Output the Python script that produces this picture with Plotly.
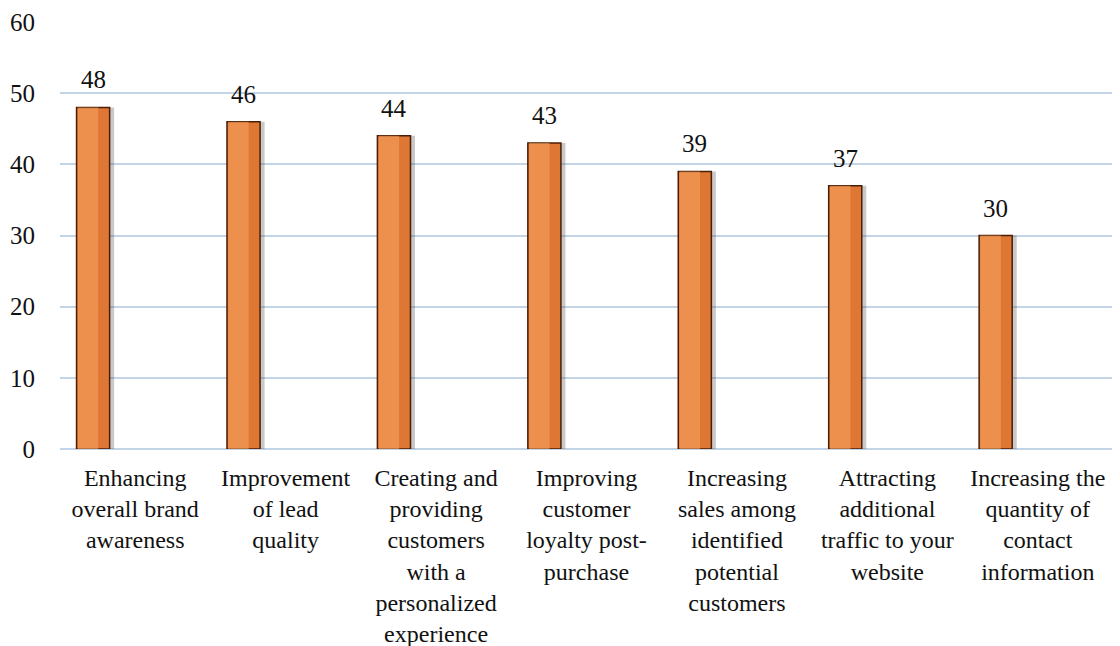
import plotly.graph_objects as go

categories = [
    "Enhancing<br>overall brand<br>awareness",
    "Improvement<br>of lead<br>quality",
    "Creating and<br>providing<br>customers<br>with a<br>personalized<br>experience",
    "Improving<br>customer<br>loyalty post-<br>purchase",
    "Increasing<br>sales among<br>identified<br>potential<br>customers",
    "Attracting<br>additional<br>traffic to your<br>website",
    "Increasing the<br>quantity of<br>contact<br>information",
]
values = [48, 46, 44, 43, 39, 37, 30]
y_ticks = [0, 10, 20, 30, 40, 50, 60]

FONT = "Liberation Serif"
BAR_OFFSET = -0.39
BAR_WIDTH = 0.22

fig = go.Figure()

# soft shadow
fig.add_trace(go.Bar(
    x=categories, y=values, offset=BAR_OFFSET + 0.03, width=BAR_WIDTH,
    marker=dict(color="rgba(60,60,60,0.28)", line=dict(width=0)),
    hoverinfo="skip", showlegend=False,
))
# main bar
fig.add_trace(go.Bar(
    x=categories, y=values, offset=BAR_OFFSET, width=BAR_WIDTH,
    marker=dict(color="#DE7634", line=dict(color="#4A1E06", width=1.5)),
    showlegend=False,
))
# lighter left bevel strip
fig.add_trace(go.Bar(
    x=categories, y=values, offset=BAR_OFFSET + 0.008, width=BAR_WIDTH * 0.62,
    marker=dict(color="rgba(250,165,100,0.55)", line=dict(width=0)),
    hoverinfo="skip", showlegend=False,
))

# value labels centred over each bar
for i, v in enumerate(values):
    fig.add_annotation(
        x=i + BAR_OFFSET + BAR_WIDTH / 2, y=v, xref="x", yref="y",
        text=str(v), showarrow=False, yanchor="bottom", yshift=12,
        font=dict(family=FONT, size=25, color="#111111"),
    )

fig.update_layout(
    width=1112, height=638,
    margin=dict(l=52, r=7, t=14, b=197),
    paper_bgcolor="white", plot_bgcolor="white",
    barmode="overlay",
    font=dict(family=FONT, size=24, color="#111111"),
    xaxis=dict(
        showgrid=False, showline=False, ticks="", automargin=False,
        tickfont=dict(family=FONT, size=24, color="#111111"),
        tickangle=0, ticklabelstandoff=12,
    ),
    yaxis=dict(
        range=[0, 60], tickvals=y_ticks, showgrid=True, automargin=False,
        gridcolor="#C3D4E6", gridwidth=1.5,
        zeroline=True, zerolinecolor="#C3D4E6", zerolinewidth=1.5,
        showline=False, ticks="", ticklabelstandoff=24,
        tickfont=dict(family=FONT, size=25, color="#111111"),
    ),
)

fig.write_html("out.html")
